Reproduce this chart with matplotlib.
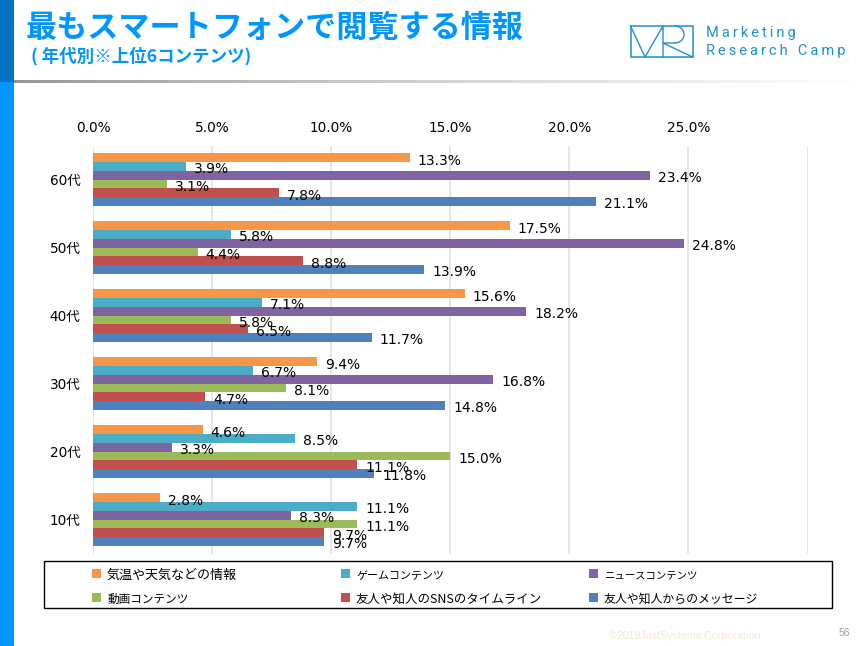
import numpy as np
import matplotlib
matplotlib.use('Agg')
import matplotlib.pyplot as plt
from matplotlib.patches import Rectangle

plt.rcParams['font.family'] = ['Noto Sans CJK JP', 'DejaVu Sans']
LATIN_FIRST = ['DejaVu Sans', 'Noto Sans CJK JP']

categories = ['10代', '20代', '30代', '40代', '50代', '60代']
weather = [2.8, 4.6, 9.4, 15.6, 17.5, 13.3]
game = [11.1, 8.5, 6.7, 7.1, 5.8, 3.9]
news = [8.3, 3.3, 16.8, 18.2, 24.8, 23.4]
video = [11.1, 15.0, 8.1, 5.8, 4.4, 3.1]
sns = [9.7, 11.1, 4.7, 6.5, 8.8, 7.8]
message = [9.7, 11.8, 14.8, 11.7, 13.9, 21.1]
series_names = ['気温や天気などの情報', 'ゲームコンテンツ', 'ニュースコンテンツ',
                '動画コンテンツ', '友人や知人のSNSのタイムライン', '友人や知人からのメッセージ']
series_values = [weather, game, news, video, sns, message]
colors = ['#F79646', '#4BACC6', '#8064A2', '#9BBB59', '#C0504D', '#4F81BD']
xticks = [0, 5, 10, 15, 20, 25, 30]
xticklabels = ['0.0%', '5.0%', '10.0%', '15.0%', '20.0%', '25.0%', '']
legend_sizes = [9.4, 7.9, 7.5, 8.4, 9.0, 8.6]

W, H = 858, 646
fig = plt.figure(figsize=(W / 100, H / 100), dpi=100, facecolor='white')

# page decoration in pixel coordinates
bg = fig.add_axes([0, 0, 1, 1], zorder=0)
bg.axis('off')
grad = np.linspace(0, 1, 256) ** 0.8
img = np.ones((1, 256, 3))
for c in range(3):
    img[0, :, c] = 0.58 + 0.42 * grad
bg.imshow(img, extent=(14, 858, 83, 80.5), aspect='auto', zorder=1)
bg.set_xlim(0, W); bg.set_ylim(H, 0)
bg.add_patch(Rectangle((0, 0), 14, 82, color='#0070C0', lw=0))
bg.add_patch(Rectangle((0, 82), 14, H - 82, color='#0096FF', lw=0))
bg.text(26, 28, '最もスマートフォンで閲覧する情報', color='#0096FF', fontsize=22.4,
        fontweight='bold', va='center', ha='left')
bg.text(31, 56, '( 年代別※上位6コンテンツ)', color='#0096FF', fontsize=12.6,
        fontweight='bold', va='center', ha='left')
# logo
lc = '#1E90D0'
bg.add_patch(Rectangle((630.5, 26), 62, 31, fill=False, ec=lc, lw=1.1))
bg.plot([630.5, 645, 663, 663], [26, 57, 26, 57], color=lc, lw=1.0)
t = np.linspace(-np.pi / 2, np.pi / 2, 30)
arc_x = 675 + 9 * np.cos(t)
arc_y = 34.5 + 8.5 * np.sin(t)
bg.plot(arc_x, arc_y, color=lc, lw=1.0)
bg.plot([675, 663, 692.5], [43, 43, 57], color=lc, lw=1.0)
sp = '\u2009'
bg.text(706, 33, sp.join('Marketing'), color=lc, fontsize=10.5, va='center', ha='left',
        family='Roboto')
bg.text(706, 51, sp.join('Research') + sp + '  ' + sp.join('Camp'), color=lc, fontsize=10.5,
        va='center', ha='left', family='Roboto')
bg.text(685, 636, '©2019JustSystems Corporation', color='#F2E8D8', fontsize=7.7,
        va='center', ha='center', family='Liberation Sans')
bg.text(844, 633, '56', color='#A0A0A0', fontsize=7.5, va='center', ha='center',
        family='Liberation Sans')

# chart
left, right, top, bottom = 93, 807.5, 145.5, 553.5
ax = fig.add_axes([left / W, 1 - bottom / H, (right - left) / W, (bottom - top) / H], zorder=2)
ax.patch.set_alpha(0)
ax.set_xlim(0, 30)
ax.set_ylim(0, 6)
bar_h = 0.129
y = np.arange(len(categories)) + 0.5
for i, (vals, col) in enumerate(zip(series_values, colors)):
    pos = y + (2.5 - i) * bar_h
    ax.barh(pos, vals, height=bar_h, color=col, lw=0, zorder=2)
    for p, v in zip(pos, vals):
        ax.annotate(f'{v:.1f}%', (v, p), xytext=(8, -3), textcoords='offset pixels',
                    fontsize=10, family=LATIN_FIRST, color='black',
                    va='center', ha='left', zorder=5)
ax.xaxis.tick_top()
ax.set_xticks(xticks)
ax.set_xticklabels(xticklabels, fontsize=9.8, family=LATIN_FIRST)
ax.set_yticks(y)
ax.set_yticklabels(categories, fontsize=9.8, family=LATIN_FIRST)
ax.tick_params(length=0)
ax.tick_params(axis='x', pad=7.5)
ax.tick_params(axis='y', pad=9)
ax.grid(axis='x', color='#E4E4E4', lw=1.3, zorder=0)
ax.set_axisbelow(True)
for s in ax.spines.values():
    s.set_visible(False)

# legend box in pixel coordinates
fg = fig.add_axes([0, 0, 1, 1], zorder=3)
fg.set_xlim(0, W); fg.set_ylim(H, 0); fg.axis('off')
fg.add_patch(Rectangle((44, 561), 788, 47, fill=False, ec='black', lw=1.0))
col_x = [92, 341, 589]
row_y = [574, 598]
for i, (name, col, fs) in enumerate(zip(series_names, colors, legend_sizes)):
    x0 = col_x[i % 3]; y0 = row_y[i // 3]
    fg.add_patch(Rectangle((x0, y0 - 5), 9, 9, color=col, lw=0))
    fg.text(x0 + 15, y0 + 5, name, fontsize=fs, va='baseline', ha='left', color='black')

fig.savefig('out.png', dpi=100)
